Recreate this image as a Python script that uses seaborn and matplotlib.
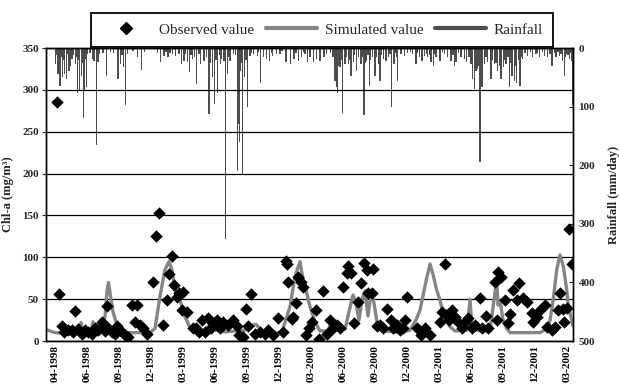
import matplotlib
matplotlib.use("Agg")
import matplotlib.pyplot as plt
import seaborn as sns
from matplotlib.lines import Line2D

# x is in months, 0 = the "04-1998" tick, one label every 3 months
tick_labels = ['04-1998', '06-1998', '09-1998', '12-1998', '03-1999', '06-1999',
               '09-1999', '12-1999', '03-2000', '06-2000', '09-2000', '12-2000',
               '03-2001', '06-2001', '09-2001', '12-2001', '03-2002']

# observed Chl-a (mg/m3)
obs_month = [0.19, 0.40, 0.63, 0.84, 1.25, 1.57, 1.72, 1.88, 2.18, 2.50, 2.81, 3.12,
             3.44, 3.75, 4.06, 4.38, 4.69, 4.85, 5.00, 5.32, 5.63, 5.84, 6.25, 6.56,
             6.87, 7.19, 7.50, 7.66, 7.97, 8.28, 8.65, 9.22, 9.50, 9.75, 10.10, 10.47,
             10.72, 10.94, 11.16, 11.41, 11.65, 11.88, 11.97, 12.35, 12.91, 13.22, 13.53,
             13.75, 14.06, 14.37, 14.60, 14.84, 15.16, 15.47, 15.78, 16.25, 16.66, 17.03,
             17.28, 17.65, 17.91, 18.12, 18.38, 18.75, 19.22, 19.69, 20.00, 20.47, 20.93,
             21.40, 21.66, 21.78, 21.87, 22.19, 22.34, 22.59, 22.81, 23.03, 23.22, 23.53,
             23.84, 24.07, 24.47, 24.78, 25.15, 25.47, 25.78, 26.09, 26.41, 26.72, 27.03,
             27.35, 27.50, 27.72, 28.03, 28.43, 28.66, 29.00, 29.22, 29.37, 29.69, 29.84,
             30.16, 30.47, 30.78, 31.15, 31.47, 31.72, 32.03, 32.34, 32.65, 32.81, 33.03,
             33.91, 34.28, 34.69, 35.16, 36.09, 36.25, 36.56, 36.66, 36.97, 37.19, 37.50,
             37.81, 38.13, 38.44, 38.75, 39.06, 39.38, 39.84, 40.00, 40.41, 40.62, 41.25,
             41.41, 41.56, 41.78, 42.19, 42.50, 42.66, 42.97, 43.28, 43.53, 43.90, 44.22,
             44.69, 44.84, 45.16, 45.47, 45.94, 46.10, 46.57, 46.88, 47.19, 47.34, 47.65,
             47.75, 47.97, 48.22, 48.44]
obs_chla = [285, 56, 18, 11, 13, 13, 11, 36, 14, 8, 13, 11,
            9, 15, 13, 23, 12, 42, 15, 11, 8, 18, 11, 7,
            5, 43, 23, 43, 19, 15, 9, 70, 126, 153, 19, 49,
            80, 101, 67, 53, 57, 37, 59, 35, 15, 16, 11,
            25, 11, 27, 16, 21, 25, 15, 23, 19, 25, 18,
            7, 5, 38, 18, 56, 9, 11, 9, 13, 7, 27,
            11, 96, 92, 70, 26, 29, 46, 76, 71, 65, 7,
            15, 23, 37, 3, 60, 9, 25, 15, 19, 15, 65,
            81, 90, 81, 22, 47, 69, 93, 85, 57, 57, 86,
            18, 19, 16, 38, 25, 16, 19, 13, 15, 25, 53,
            16, 7, 15, 7, 23, 35, 92, 31, 25, 37, 29,
            23, 16, 23, 27, 16, 19, 51, 16, 30, 15, 71,
            25, 83, 77, 49, 22, 32, 61, 49, 69, 51, 47,
            34, 23, 29, 37, 43, 17, 13, 17, 37, 57, 38,
            23, 39, 134, 92]

# simulated Chl-a (mg/m3)
sim_month = [-0.84, -0.47, 0.00, 1.41, 2.25, 2.44, 2.63, 3.38, 3.56, 3.75, 4.41, 4.69,
             4.88, 5.02, 5.25, 5.44, 5.91, 6.19, 8.91, 9.38, 9.84, 10.31, 10.69, 10.97,
             11.25, 11.72, 12.19, 12.66, 13.13, 14.06, 14.53, 15.00, 15.94, 16.88, 17.81,
             18.28, 18.84, 19.41, 20.16, 21.09, 21.38, 22.03, 22.50, 22.97, 23.16, 23.53,
             23.91, 24.38, 24.84, 25.59, 25.88, 26.16, 27.19, 27.56, 27.94, 28.22, 28.50,
             28.78, 29.06, 29.34, 29.63, 29.91, 30.28, 30.94, 32.34, 33.28, 33.84, 34.22,
             34.84, 35.16, 35.47, 35.78, 36.09, 36.38, 36.72, 37.03, 37.50, 38.63, 38.91,
             39.09, 39.84, 40.78, 41.06, 41.25, 41.41, 41.53, 41.72, 42.00, 42.34, 42.66,
             45.47, 46.13, 46.41, 46.72, 47.03, 47.34, 47.66, 47.97, 48.13, 48.44, 48.56]
sim_chla = [14, 12, 10, 9, 10, 22, 10, 11, 23, 11, 12, 29,
            60, 70, 50, 35, 15, 10, 10, 15, 53, 85, 95, 85,
            61, 49, 29, 16, 12, 12, 20, 13, 11, 12, 13,
            18, 20, 12, 10, 10, 15, 41, 77, 95, 80, 61,
            41, 23, 12, 12, 22, 13, 14, 35, 55, 45, 25,
            50, 60, 30, 58, 45, 15, 12, 10, 13, 25, 37,
            75, 92, 78, 61, 49, 33, 23, 17, 12, 13, 50,
            15, 12, 12, 40, 59, 71, 43, 49, 25, 15, 10,
            10, 15, 25, 51, 85, 103, 89, 61, 41, 25, 18]

# daily rainfall (mm/day): the larger events, then the many small showers
rain_month = [0.07, 0.28, 0.47, 0.68, 0.91, 1.10, 1.31, 1.47, 1.94, 2.09, 2.32, 2.47,
              2.65, 2.78, 2.93, 3.50, 3.66, 3.88, 4.03, 4.85, 5.91, 6.16, 6.40, 6.63,
              7.72, 8.13, 9.91, 10.22, 10.59, 11.00, 11.32, 11.63, 11.88, 12.09, 12.41,
              12.63, 12.87, 13.28, 13.66, 13.97, 14.44, 14.75, 14.97, 15.22, 15.53,
              15.63, 15.84, 15.97, 16.15, 16.41, 16.72, 17.09, 17.18, 17.28, 17.37, 17.60,
              17.78, 18.03, 18.28, 18.59, 18.97, 19.28, 19.53, 19.84, 20.09, 20.41, 20.78,
              21.09, 21.66, 22.10, 22.41, 22.81, 23.13, 23.44, 23.69, 23.91, 24.22, 24.53,
              24.84, 25.22, 25.47, 26.25, 26.41, 26.50, 26.72, 26.97, 27.19, 27.50, 27.75,
              27.97, 28.28, 28.44, 28.69, 28.97, 29.22, 29.47, 29.78, 30.00, 30.31, 30.47,
              30.78, 31.03, 31.25, 31.57, 31.78, 32.03, 32.13, 32.44, 32.75, 33.06, 33.53,
              33.84, 34.16, 34.41, 34.63, 34.94, 35.25, 35.47, 35.72, 36.09, 36.50, 36.81,
              37.13, 37.44, 37.59, 38.06, 38.37, 38.59, 39.00, 39.16, 39.31, 39.47, 39.63,
              39.84, 40.03, 40.25, 40.56, 40.88, 41.19, 41.50, 41.81, 42.03, 42.28, 42.59,
              42.84, 43.06, 43.28, 43.59, 43.84, 44.31, 44.78, 45.09, 45.41, 45.88, 46.19,
              46.59, 46.97, 47.28, 47.59, 47.75, 47.97, 48.22, 48.47, 48.52,
              0.18, 0.55, 0.80, 1.20, 1.60, 1.75, 2.00, 2.20, 2.55, 2.85, 3.05, 3.30,
              4.20, 4.50, 5.20, 5.50, 6.30, 6.80, 7.30, 8.40, 9.60, 10.40, 10.80, 12.20,
              12.75, 13.10, 13.50, 14.20, 14.60, 15.10, 15.40, 16.00, 16.30, 16.90, 17.45,
              17.90, 18.40, 19.10, 20.30, 21.30, 22.60, 23.30, 25.80, 26.05, 26.60, 26.85,
              27.35, 27.60, 28.10, 28.85, 29.10, 29.35, 29.60, 30.15, 30.60, 31.40, 31.90,
              33.30, 34.00, 34.80, 35.10, 35.60, 36.30, 37.30, 37.80, 38.80, 39.10, 39.40,
              39.75, 39.95, 40.40, 41.00, 41.35, 41.65, 42.15, 42.45, 42.70, 43.20, 43.45,
              43.75, 44.05, 44.55, 45.25, 45.70, 46.40, 46.80, 47.15, 47.45, 47.85, 48.10,
              48.35]
rain_mm = [27, 44, 64, 50, 44, 53, 39, 30, 27, 77, 73, 47,
           120, 73, 67, 19, 22, 166, 24, 47, 53, 27, 33, 98,
           16, 37, 24, 13, 16, 10, 13, 10, 27, 22, 24,
           41, 19, 61, 27, 22, 113, 50, 96, 76, 27,
           19, 22, 326, 44, 22, 10, 209, 130, 160, 39, 216,
           50, 101, 13, 10, 13, 59, 16, 19, 22, 13, 10,
           10, 24, 27, 19, 22, 16, 10, 24, 16, 24, 19,
           22, 16, 10, 56, 67, 77, 33, 110, 27, 27, 47,
           24, 39, 16, 27, 115, 22, 64, 16, 47, 27, 56,
           19, 22, 16, 101, 27, 16, 56, 10, 13, 8, 10,
           27, 16, 22, 13, 16, 24, 30, 16, 22, 10, 16,
           22, 30, 24, 16, 19, 24, 27, 53, 70, 39, 36,
           195, 67, 27, 24, 53, 27, 39, 53, 33, 27, 67,
           47, 56, 59, 64, 19, 13, 16, 10, 16, 13, 16,
           30, 16, 13, 22, 47, 10, 19, 22, 97,
           12, 15, 20, 10, 18, 12, 15, 20, 25, 18, 10, 8,
           10, 8, 6, 8, 12, 10, 5, 6, 8, 6, 8, 10,
           12, 15, 10, 15, 25, 20, 12, 30, 15, 12, 25,
           20, 8, 6, 8, 5, 8, 6, 8, 15, 30, 20,
           15, 20, 12, 15, 25, 12, 20, 15, 12, 10, 8,
           6, 8, 10, 12, 10, 6, 12, 8, 15, 20, 25,
           30, 40, 15, 20, 25, 30, 20, 15, 25, 30, 20,
           15, 8, 6, 8, 6, 10, 8, 6, 10, 15, 12,
           8]

sns.set_theme(style="white")
plt.rcParams['font.family'] = ['Liberation Serif', 'DejaVu Serif']

fig = plt.figure(figsize=(6.19, 3.92), dpi=100)
ax = fig.add_axes([0.0743, 0.130, 0.8514, 0.7474])
ax2 = ax.twinx()

# rainfall hangs from the top on the inverted right axis
ax2.bar(rain_month, rain_mm, width=0.13, color='#4d4d4d', linewidth=0)
ax2.set_ylim(500, 0)
ax2.set_yticks(range(0, 501, 100))

ax.set_zorder(2)
ax.patch.set_visible(False)
sns.lineplot(x=sim_month, y=sim_chla, color='#858585', lw=2.4, estimator=None, ax=ax)
sns.scatterplot(x=obs_month, y=obs_chla, marker='D', color='black', s=40,
                edgecolor='black', linewidth=0, ax=ax, zorder=3)

ax.set_xlim(-0.84, 48.56)
ax.set_ylim(0, 350)
ax.set_yticks(range(0, 351, 50))
ax.set_xticks(range(0, 49, 3))
ax.set_xticklabels(tick_labels, rotation=90, fontweight='bold', fontsize=8)
ax.yaxis.grid(True, color='black', lw=0.9)
ax.set_axisbelow(True)

for a in (ax, ax2):
    for s in a.spines.values():
        s.set_color('black')
        s.set_linewidth(1.0)
ax.tick_params(axis='x', direction='in', length=4, width=0.8, colors='black', pad=3)
ax.tick_params(axis='y', direction='out', length=3, width=0.8, labelsize=8, pad=2)
ax2.tick_params(axis='y', direction='in', length=3, width=0.8, labelsize=8, pad=4)
for lab in ax.get_yticklabels() + ax2.get_yticklabels():
    lab.set_fontweight('bold')

ax.set_ylabel('Chl-a (mg/m³)', fontweight='bold', fontsize=9, labelpad=6)
ax2.set_ylabel('Rainfall (mm/day)', fontweight='bold', fontsize=9, labelpad=9)

handles = [Line2D([], [], marker='D', color='black', ls='none', ms=6),
           Line2D([], [], color='#858585', lw=3),
           Line2D([], [], color='#4d4d4d', lw=3)]
leg = fig.legend(handles, ['Observed value', 'Simulated value', 'Rainfall'],
                 ncol=3, loc='center', bbox_to_anchor=(0.520, 0.924), fontsize=11,
                 frameon=True, fancybox=False, edgecolor='black', framealpha=1,
                 handlelength=3.3, handletextpad=0.5, columnspacing=0.8,
                 borderpad=0.65)
leg.get_frame().set_linewidth(1.3)

fig.savefig('out.png', dpi=100)
